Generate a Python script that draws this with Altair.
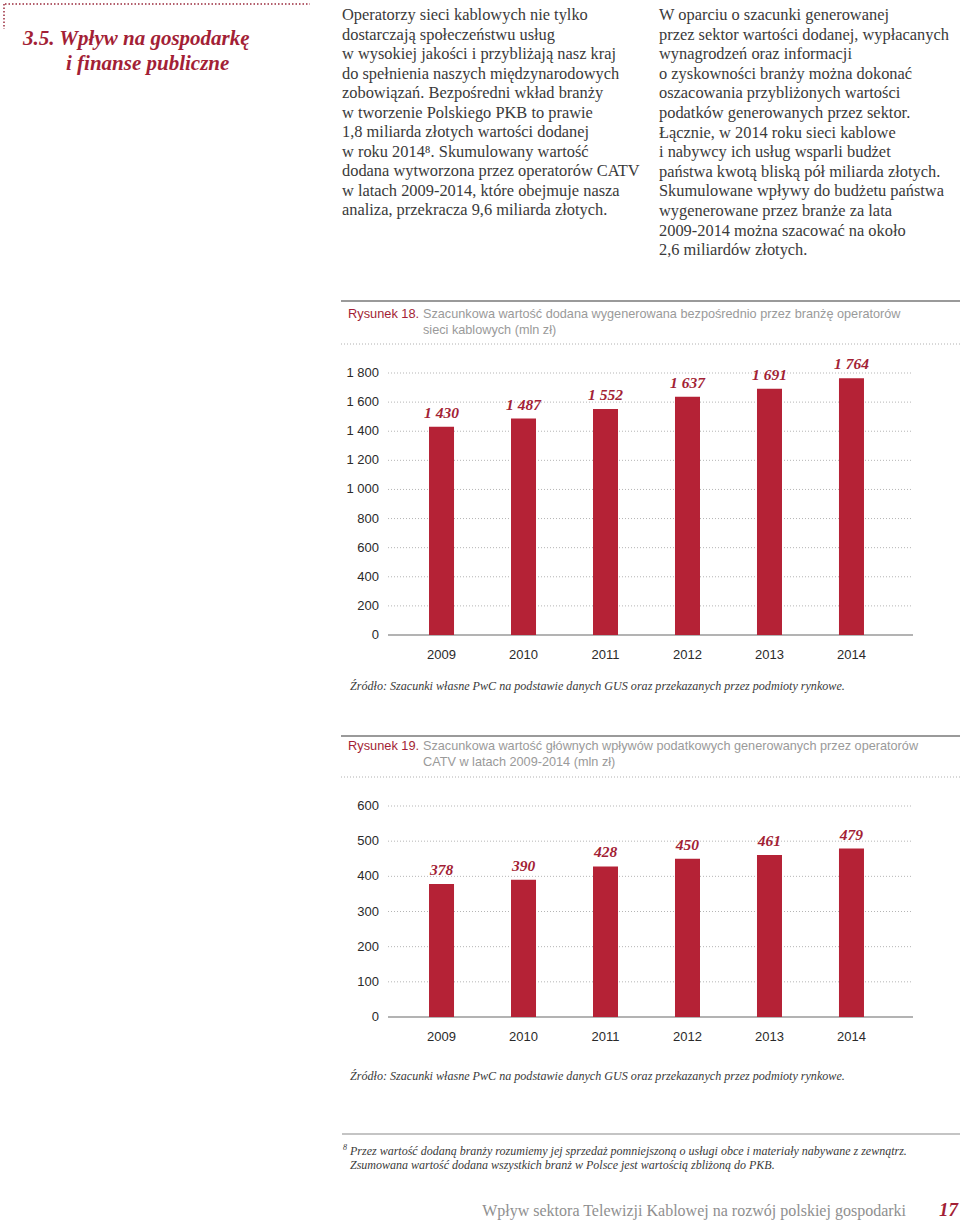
import altair as alt
import pandas as pd

# ---------------- data ----------------
years = ["2009", "2010", "2011", "2012", "2013", "2014"]
value_added = [1430, 1487, 1552, 1637, 1691, 1764]
value_added_labels = ["1 430", "1 487", "1 552", "1 637", "1 691", "1 764"]
tax_revenue = [378, 390, 428, 450, 461, 479]
tax_revenue_labels = ["378", "390", "428", "450", "461", "479"]

y1_ticks = [0, 200, 400, 600, 800, 1000, 1200, 1400, 1600, 1800]
y1_tick_labels = ["0", "200", "400", "600", "800", "1 000", "1 200", "1 400", "1 600", "1 800"]
y2_ticks = [0, 100, 200, 300, 400, 500, 600]
y2_tick_labels = ["0", "100", "200", "300", "400", "500", "600"]

title_lines = ["3.5. Wpływ na gospodarkę"]
title_line2 = ["i finanse publiczne"]
col1_lines = [
    "Operatorzy sieci kablowych nie tylko",
    "dostarczają społeczeństwu usług",
    "w wysokiej jakości i przybliżają nasz kraj",
    "do spełnienia naszych międzynarodowych",
    "zobowiązań. Bezpośredni wkład branży",
    "w tworzenie Polskiego PKB to prawie",
    "1,8 miliarda złotych wartości dodanej",
    "w roku 2014⁸. Skumulowany wartość",
    "dodana wytworzona przez operatorów CATV",
    "w latach 2009-2014, które obejmuje nasza",
    "analiza, przekracza 9,6 miliarda złotych.",
]
col2_lines = [
    "W oparciu o szacunki generowanej",
    "przez sektor wartości dodanej, wypłacanych",
    "wynagrodzeń oraz informacji",
    "o zyskowności branży można dokonać",
    "oszacowania przybliżonych wartości",
    "podatków generowanych przez sektor.",
    "Łącznie, w 2014 roku sieci kablowe",
    "i nabywcy ich usług wsparli budżet",
    "państwa kwotą bliską pół miliarda złotych.",
    "Skumulowane wpływy do budżetu państwa",
    "wygenerowane przez branże za lata",
    "2009-2014 można szacować na około",
    "2,6 miliardów złotych.",
]
fig1_label = "Rysunek 18."
fig1_caption = [
    "Szacunkowa wartość dodana wygenerowana bezpośrednio przez branżę operatorów",
    "sieci kablowych (mln zł)",
]
fig2_label = "Rysunek 19."
fig2_caption = [
    "Szacunkowa wartość głównych wpływów podatkowych generowanych przez operatorów",
    "CATV w latach 2009-2014 (mln zł)",
]
source_text = "Źródło: Szacunki własne PwC na podstawie danych GUS oraz przekazanych przez podmioty rynkowe."
footnote_lines = [
    "Przez wartość dodaną branży rozumiemy jej sprzedaż pomniejszoną o usługi obce i materiały nabywane z zewnątrz.",
    "Zsumowana wartość dodana wszystkich branż w Polsce jest wartością zbliżoną do PKB.",
]
footer_text = "Wpływ sektora Telewizji Kablowej na rozwój polskiej gospodarki"
page_number = "17"

# ---------------- styles ----------------
RED = "#b52236"
RED_TXT = "#a31f36"
SERIF = "Liberation Serif"
SANS = "Liberation Sans"
BODY = "#3a3a3a"

one = pd.DataFrame({"_": [0]})


def txt(lines, x, y, size, font=SERIF, color=BODY, style="normal", weight="normal",
        align="left", lh=None):
    kw = dict(text=lines, align=align, baseline="alphabetic", font=font, fontSize=size,
              fontStyle=style, fontWeight=weight, color=color)
    if lh is not None:
        kw["lineHeight"] = lh
    return alt.Chart(one).mark_text(**kw).encode(x=alt.value(x), y=alt.value(y))


def hrule(x1, x2, y, color, width=1.0, dash=None):
    kw = dict(color=color, strokeWidth=width)
    if dash is not None:
        kw["strokeDash"] = dash
    return alt.Chart(one).mark_rule(**kw).encode(
        x=alt.value(x1), x2=alt.value(x2), y=alt.value(y))


def vrule(x, y1, y2, color, width=1.0, dash=None):
    kw = dict(color=color, strokeWidth=width)
    if dash is not None:
        kw["strokeDash"] = dash
    return alt.Chart(one).mark_rule(**kw).encode(
        x=alt.value(x), y=alt.value(y1), y2=alt.value(y2))


# ---------------- page text ----------------
page = [
    hrule(5, 310, 4, "#9b2a3c", 1.5, [1.5, 2]),
    vrule(4, 4, 29, "#9b2a3c", 1.5, [1.5, 2]),
    txt(title_lines, 23, 45, 21, style="italic", weight="bold", color=RED_TXT),
    txt(title_line2, 66, 70, 21, style="italic", weight="bold", color=RED_TXT),
    txt(col1_lines, 342, 20, 16.4, lh=19.5),
    txt(col2_lines, 659, 20, 16.4, lh=19.6),
    # figure 18 header
    hrule(341, 960, 301, "#9a9a9a", 2),
    txt([fig1_label], 348, 318, 12.8, font=SANS, color=RED_TXT),
    txt(fig1_caption, 423, 318, 12.7, font=SANS, color="#9a9a9a", lh=15.5),
    hrule(341, 960, 344, "#b0b0b0", 1, [1, 2]),
    txt([source_text], 350, 690, 12.1, style="italic"),
    # figure 19 header
    hrule(341, 960, 736, "#9a9a9a", 2),
    txt([fig2_label], 348, 750, 12.8, font=SANS, color=RED_TXT),
    txt(fig2_caption, 423, 750, 12.7, font=SANS, color="#9a9a9a", lh=15.5),
    hrule(341, 960, 777, "#b0b0b0", 1, [1, 2]),
    txt([source_text], 350, 1080, 12.1, style="italic"),
    # footnote
    hrule(342, 960, 1134, "#8a8a8a", 1.2),
    txt(["8"], 343, 1150, 8, style="italic"),
    txt(footnote_lines, 350, 1155, 12, style="italic", lh=14),
    # footer
    txt([footer_text], 906, 1216, 16, color="#8f8f8f", align="right"),
    txt([page_number], 958, 1216, 19, style="italic", weight="bold", color=RED_TXT, align="right"),
]


# ---------------- bar charts ----------------
def bar_panel(values, labels, ticks, tick_labels, y_range, ymax, year_y):
    df = pd.DataFrame({"year": years, "v": values, "lab": labels})
    tdf = pd.DataFrame({"t": ticks, "tl": tick_labels})
    xs = alt.Scale(domain=years, range=[384, 909], paddingInner=0.695, paddingOuter=0.549)
    ys = alt.Scale(domain=[0, ymax], range=y_range, nice=False, zero=True)
    grid = alt.Chart(tdf).transform_filter("datum.t > 0").mark_rule(
        color="#b5b5b5", strokeDash=[1, 2], strokeWidth=1).encode(
        y=alt.Y("t:Q", scale=ys, axis=None), x=alt.value(388), x2=alt.value(913))
    base = alt.Chart(tdf).transform_filter("datum.t == 0").mark_rule(
        color="#9a9a9a", strokeWidth=1.5).encode(
        y=alt.Y("t:Q", scale=ys, axis=None), x=alt.value(388), x2=alt.value(913))
    tlab = alt.Chart(tdf).mark_text(align="right", baseline="middle", font=SANS,
                                    fontSize=13, color="#2a2a2a").encode(
        y=alt.Y("t:Q", scale=ys, axis=None), x=alt.value(379), text="tl:N")
    bars = alt.Chart(df).mark_bar(color=RED).encode(
        x=alt.X("year:N", scale=xs, axis=None),
        y=alt.Y("v:Q", scale=ys, axis=None))
    vlab = alt.Chart(df).mark_text(baseline="alphabetic", dy=-9, font=SERIF, fontSize=15.5,
                                   fontStyle="italic", fontWeight="bold", color=RED_TXT).encode(
        x=alt.X("year:N", scale=xs, axis=None),
        y=alt.Y("v:Q", scale=ys, axis=None), text="lab:N")
    xlab = alt.Chart(df).mark_text(baseline="alphabetic", font=SANS, fontSize=13,
                                   color="#2a2a2a").encode(
        x=alt.X("year:N", scale=xs, axis=None), y=alt.value(year_y), text="year:N")
    return alt.layer(grid, base, tlab, bars, vlab, xlab)


chart1 = bar_panel(value_added, value_added_labels, y1_ticks, y1_tick_labels,
                   [635, 373], 1800, 659)
chart2 = bar_panel(tax_revenue, tax_revenue_labels, y2_ticks, y2_tick_labels,
                   [1017, 806], 600, 1041)

chart = alt.layer(*page, chart1, chart2).resolve_scale(
    x="independent", y="independent"
).properties(
    width=960, height=1224, autosize=alt.AutoSizeParams(type="none"), padding=0
).configure_view(stroke=None)

chart.save("out.html", embed_options={"renderer": "svg", "actions": False})
